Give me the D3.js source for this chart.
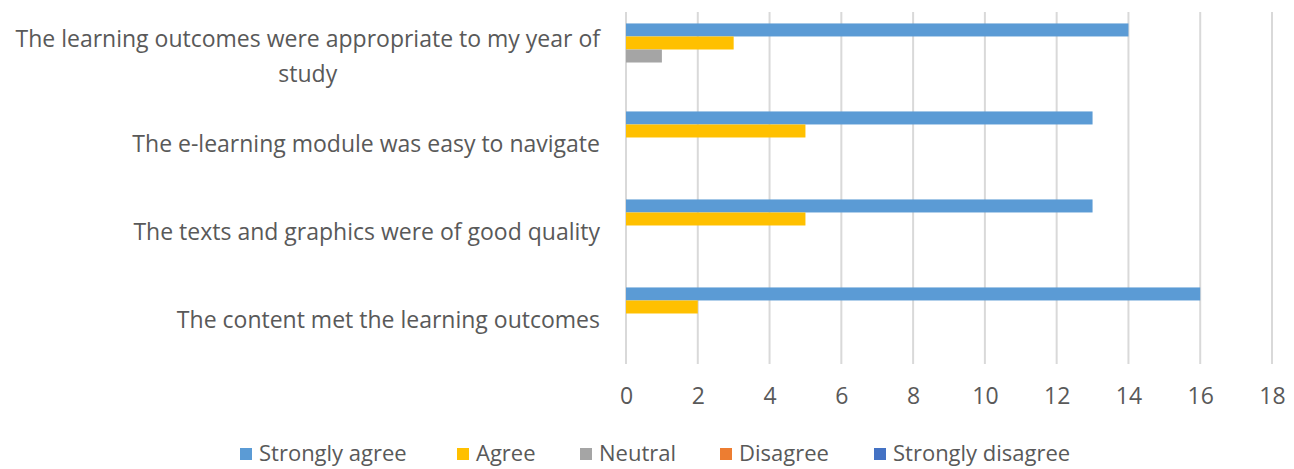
<!DOCTYPE html>
<html>
<head>
<meta charset="utf-8">
<script src="https://cdn.jsdelivr.net/npm/d3@7"></script>
<style>
  html, body { margin: 0; padding: 0; background: #fff; }
  svg { display: block; }
  text { font-family: "Open Sans", sans-serif; fill: #595959; }
</style>
</head>
<body>
<svg id="chart" width="1294" height="469"></svg>
<script>
const categories = [
  "The learning outcomes were appropriate to my year of study",
  "The e-learning module was easy to navigate",
  "The texts and graphics were of good quality",
  "The content met the learning outcomes"
];
const categoryLines = [
  ["The learning outcomes were appropriate to my year of", "study"],
  ["The e-learning module was easy to navigate"],
  ["The texts and graphics were of good quality"],
  ["The content met the learning outcomes"]
];
const seriesNames = ["Strongly agree", "Agree", "Neutral", "Disagree", "Strongly disagree"];
const seriesColors = ["#5B9BD5", "#FFC000", "#A5A5A5", "#ED7D31", "#4472C4"];
const stronglyAgree = [14, 13, 13, 16];
const agree = [3, 5, 5, 2];
const neutral = [1, 0, 0, 0];
const disagree = [0, 0, 0, 0];
const stronglyDisagree = [0, 0, 0, 0];
const xTicks = [0, 2, 4, 6, 8, 10, 12, 14, 16, 18];

const seriesValues = [stronglyAgree, agree, neutral, disagree, stronglyDisagree];

const svg = d3.select("#chart");
const plot = { left: 626, right: 1272, top: 12, bottom: 364 };

const x = d3.scaleLinear().domain([0, 18]).range([plot.left, plot.right]);
const y0 = d3.scaleBand().domain(categories).range([plot.top, plot.bottom]).paddingInner(0.26).paddingOuter(0.13);
const y1 = d3.scaleBand().domain(seriesNames).range([0, y0.bandwidth()]);

// gridlines
svg.append("g").selectAll("line").data(xTicks).join("line")
  .attr("x1", d => x(d)).attr("x2", d => x(d))
  .attr("y1", plot.top).attr("y2", plot.bottom)
  .attr("stroke", "#D9D9D9").attr("stroke-width", 2);

// bars
const groups = svg.append("g").selectAll("g").data(categories).join("g")
  .attr("transform", d => `translate(0,${y0(d)})`);
groups.each(function(cat, ci) {
  d3.select(this).selectAll("rect")
    .data(seriesNames.map((s, si) => ({ s, v: seriesValues[si][ci], c: seriesColors[si] })))
    .join("rect")
    .attr("x", x(0))
    .attr("y", d => y1(d.s))
    .attr("width", d => x(d.v) - x(0))
    .attr("height", y1.bandwidth())
    .attr("fill", d => d.c);
});

// x axis labels
const xAxis = d3.axisBottom(x).tickValues(xTicks).tickSize(0).tickPadding(0);
const xg = svg.append("g").attr("transform", `translate(0,${plot.bottom + 24})`).call(xAxis);
xg.select(".domain").remove();
xg.selectAll("text").attr("font-size", 23).attr("fill", "#595959")
  .style("font-family", '"Open Sans", sans-serif');

// category labels
const labelG = svg.append("g");
const catFont = 23;
categories.forEach((cat, ci) => {
  const lines = categoryLines[ci];
  const cy = y0(cat) + y0.bandwidth() / 2;
  const lh = 35;
  const t = labelG.append("text").attr("font-size", catFont).attr("text-anchor", "middle");
  const widest = lines.reduce((a, b) => a.length > b.length ? a : b);
  const tmp = labelG.append("text").attr("font-size", catFont).text(widest);
  const w = tmp.node().getComputedTextLength();
  tmp.remove();
  const cx = 600 - w / 2;
  lines.forEach((ln, li) => {
    t.append("tspan").attr("x", cx)
      .attr("y", cy + (li - (lines.length - 1) / 2) * lh)
      .attr("dy", "0.35em").text(ln);
  });
});

// legend
const legendX = [240, 457, 580, 720, 874];
const lg = svg.append("g").attr("transform", "translate(0,453)");
seriesNames.forEach((s, i) => {
  lg.append("rect").attr("x", legendX[i]).attr("y", -5).attr("width", 12).attr("height", 12).attr("fill", seriesColors[i]);
  lg.append("text").attr("x", legendX[i] + 19).attr("y", 0).attr("dy", "0.35em")
    .attr("font-size", 22).text(s);
});
</script>
</body>
</html>
